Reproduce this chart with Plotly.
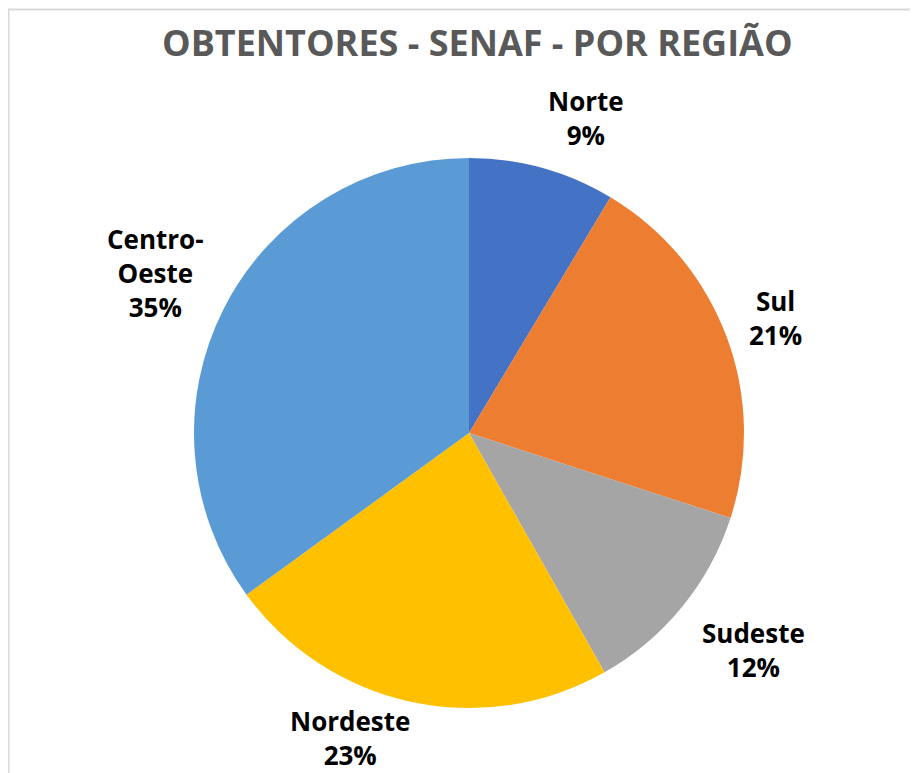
import math
import plotly.graph_objects as go

regions = ["Norte", "Sul", "Sudeste", "Nordeste", "Centro-<br>Oeste"]
values = [8.6, 21.4, 11.8, 23.2, 35.0]
colors = ["#4472C4", "#ED7D31", "#A5A5A5", "#FFC000", "#5B9BD5"]
title_text = "OBTENTORES - SENAF - POR REGIÃO"

W, H = 918, 773
OFF = 8  # page body margin
cx, cy, r = 469 - OFF, 433 - OFF, 275  # pie centre / radius in figure pixels

fig = go.Figure(go.Pie(
    labels=[l.replace("<br>", "") for l in regions],
    values=values,
    sort=False,
    direction="clockwise",
    rotation=0,
    marker=dict(colors=colors, line=dict(width=0)),
    textinfo="none",
    hoverinfo="label+percent",
    showlegend=False,
    domain=dict(x=[(cx - r) / W, (cx + r) / W], y=[(H - cy - r) / H, (H - cy + r) / H]),
))

# labels placed around each slice's mid angle, outside the pie (best-fit nudges in px)
label_nudge = [(30, 0), (0, 0), (31, 10), (-50, -15), (-22, -11)]
total = sum(values)
cum = 0.0
label_r = 1.19 * r
annotations = []
for name, v, (nx, ny) in zip(regions, values, label_nudge):
    mid = (cum + v / 2) / total * 2 * math.pi
    cum += v
    px = cx + label_r * math.sin(mid) + nx
    py = cy - label_r * math.cos(mid) + ny
    pct = round(v / total * 100)
    annotations.append(dict(
        x=px / W, y=1 - py / H, xref="paper", yref="paper",
        text=f"<b>{name}<br>{pct}%</b>", showarrow=False,
        font=dict(family="Open Sans", size=26, color="#000000"),
        align="center", xanchor="center", yanchor="middle",
    ))

annotations.append(dict(
    x=(477 - OFF) / W, y=1 - (42 - OFF) / H, xref="paper", yref="paper",
    text=f"<b>{title_text}</b>", showarrow=False,
    font=dict(family="Open Sans", size=36, color="#595959"),
    xanchor="center", yanchor="middle",
))

fig.update_layout(
    width=W, height=H, autosize=False,
    margin=dict(l=0, r=0, t=0, b=0),
    paper_bgcolor="white", plot_bgcolor="white",
    annotations=annotations,
    shapes=[dict(type="rect", xref="paper", yref="paper",
                 x0=0.5 / W, x1=1.05, y0=-0.05, y1=1 - 1.5 / H,
                 line=dict(color="#D9D9D9", width=2), fillcolor="rgba(0,0,0,0)", layer="below")],
)

fig.write_html("out.html")
